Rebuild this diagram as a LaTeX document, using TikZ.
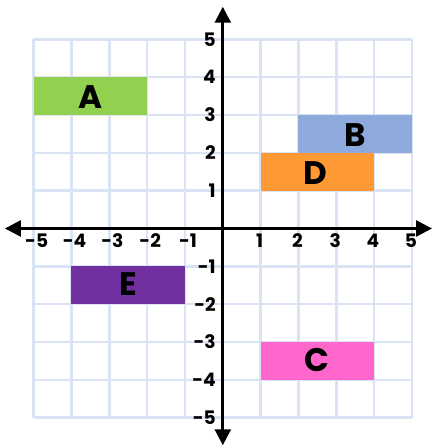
\documentclass[tikz,border=0pt]{standalone}
\usepackage{fontspec}
\setmainfont{Poppins}
\usetikzlibrary{arrows.meta}
\definecolor{gridc}{HTML}{DAE3F3}
\definecolor{cA}{HTML}{92D050}
\definecolor{cB}{HTML}{8EA9DB}
\definecolor{cC}{HTML}{FF66CC}
\definecolor{cD}{HTML}{FF9933}
\definecolor{cE}{HTML}{7030A0}
\tikzset{
  gridline/.style={draw=gridc, line width=1.9pt},
  axisline/.style={draw=black, line width=2pt, -{Triangle[length=0.42cm,width=0.42cm]}},
  rectbox/.style={draw=none},
  letter/.style={font=\fontsize{24.5}{26}\selectfont\bfseries, text=black, inner sep=0pt},
  num/.style={font=\fontsize{14}{16}\selectfont\bfseries, text=black, inner sep=0pt},
}
\begin{document}
\begin{tikzpicture}[x=1cm,y=1cm]
\useasboundingbox (-5.89,-5.75) rectangle (5.56,6.04);
% grid
\foreach \i in {-5,...,5} {
  \draw[gridline] (\i,-5) -- (\i,5);
  \draw[gridline] (-5,\i) -- (5,\i);
}
% rectangles
\fill[cA] (-5,3) rectangle (-2,4);
\fill[cB] (2,2) rectangle (5,3);
\fill[cD] (1,1) rectangle (4,2);
\fill[cE] (-4,-2) rectangle (-1,-1);
\fill[cC] (1,-4) rectangle (4,-3);
\node[letter] (A) at (-3.5,3.47) {A};
\node[letter] (B) at (3.5,2.47) {B};
\node[letter] (D) at (2.45,1.47) {D};
\node[letter] (E) at (-2.5,-1.47) {E};
\node[letter] (C) at (2.5,-3.47) {C};
% axes
\coordinate (xl) at (-5.76,0);
\coordinate (xr) at (5.53,0);
\coordinate (yt) at (0,5.86);
\coordinate (yb) at (0,-5.73);
\coordinate (o) at (0,0);
\draw[axisline] (o) -- (xl);
\draw[axisline] (o) -- (xr);
\draw[axisline] (o) -- (yt);
\draw[axisline] (o) -- (yb);
% labels
\foreach \i in {1,...,5} {
  \node[num] (xp\i) at (\i-0.03,-0.32) {\i};
  \node[num] (xn\i) at (-\i+0.08,-0.32) {-\i};
  \node[num, anchor=east] (yp\i) at (-0.18,\i) {\i};
  \node[num, anchor=east] (yn\i) at (-0.18,-\i) {-\i};
}
\end{tikzpicture}
\end{document}
